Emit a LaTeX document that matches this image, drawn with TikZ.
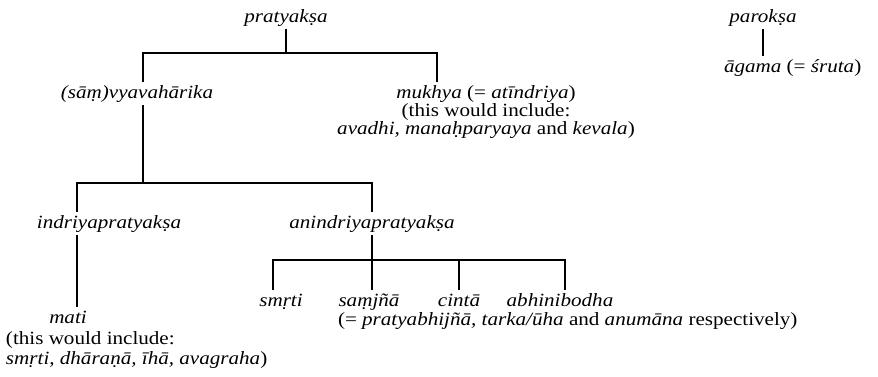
\documentclass[tikz,border=0pt]{standalone}
\usepackage{fontspec}
\setmainfont{Liberation Serif}[FakeStretch=1.13]

\begin{document}
\begin{tikzpicture}[x=0.75pt, y=-0.75pt,
    term/.style={inner sep=0pt, outer xsep=0pt, outer ysep=2.5pt, font=\fontsize{14}{13.5}\selectfont\itshape},
    gloss/.style={inner sep=0pt, outer xsep=0pt, outer ysep=2.5pt, font=\fontsize{14}{13.5}\selectfont},
    branch/.style={line width=2pt}
]
    \useasboundingbox (0,0) rectangle (878,376);

    \node[term, anchor=base] (pratyaksa) at (286, 22) {pratyakṣa};
    \node[term, anchor=base] (paroksa) at (763, 22) {parokṣa};
    \node[gloss, anchor=base west] (agama) at (724, 72) {\textit{āgama} (= \textit{śruta})};

    \node[term, anchor=base] (vyav) at (137, 98) {(sāṃ)vyavahārika};
    \node[gloss, anchor=north, align=center] (mukhya) at (486, 82)
        {\textit{mukhya} (= \textit{atīndriya})\\(this would include:\\\textit{avadhi, manaḥparyaya} and \textit{kevala})};

    \node[term, anchor=base] (indriya) at (109, 228) {indriyapratyakṣa};
    \node[term, anchor=base] (anindriya) at (372, 228) {anindriyapratyakṣa};

    \node[term, anchor=base] (mati) at (68, 323) {mati};
    \node[gloss, anchor=north west, align=left, font=\fontsize{14}{15}\selectfont] (matinote) at (6, 328)
        {(this would include:\\\textit{smṛti, dhāraṇā, īhā, avagraha})};

    \node[term, anchor=base] (smrti) at (281, 306) {smṛti};
    \node[term, anchor=base] (samjna) at (369, 306) {saṃjñā};
    \node[term, anchor=base] (cinta) at (459, 306) {cintā};
    \node[term, anchor=base] (abhini) at (560, 306) {abhinibodha};
    \node[gloss, anchor=base west] (resp) at (338, 325)
        {(= \textit{pratyabhijñā, tarka/ūha} and \textit{anumāna} respectively)};

    % pratyaksa and its two kinds
    \coordinate (bar0l) at (143, 53);
    \coordinate (bar0r) at (437, 53);
    \draw[branch] (pratyaksa.south) -- (pratyaksa.south |- bar0l);
    \draw[branch] (vyav.north -| bar0l) -- (bar0l) -- (bar0r) -- (mukhya.north -| bar0r);

    \draw[branch] (paroksa.south) -- (agama.north -| paroksa.south);

    % samvyavaharika
    \coordinate (bar1l) at (77, 183);
    \coordinate (bar1r) at (372, 183);
    \draw[branch] (vyav.south -| bar0l) -- (bar0l |- bar1l);
    \draw[branch] (indriya.north -| bar1l) -- (bar1l) -- (bar1r) -- (anindriya.north);
    \draw[branch] (indriya.south -| bar1l) -- (mati.north -| bar1l);

    % anindriyapratyaksa
    \coordinate (bar2l) at (273, 260);
    \coordinate (bar2r) at (565, 260);
    \draw[branch] (anindriya.south) -- (anindriya.south |- bar2l);
    \draw[branch] (smrti.north -| bar2l) -- (bar2l) -- (bar2r) -- (abhini.north -| bar2r);
    \draw[branch] (samjna.north -| anindriya.south) -- (anindriya.south |- bar2l);
    \draw[branch] (cinta.north) -- (cinta.north |- bar2l);
\end{tikzpicture}
\end{document}
